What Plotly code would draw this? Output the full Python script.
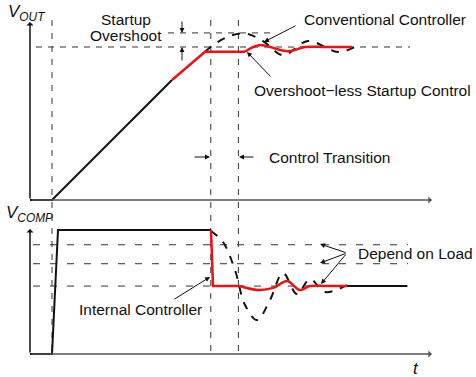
import plotly.graph_objects as go

# ---------------- data (time t in a.u., voltages normalised) ----------------
# V_OUT panel
vout_ramp_t = [0, 5.5, 35.5]
vout_ramp_v = [0, 0, 0.784]
vout_red_ramp_t = [35.5, 43.75, 53.75]
vout_red_ramp_v = [0.784, 0.969, 0.969]
vout_red_settle_t = [53.75, 57.25, 64.5, 68.75, 74, 80.5]
vout_red_settle_v = [0.969, 1.012, 0.972, 1.0, 1.0, 1.0]
vout_conv_t = [43.75, 45.5, 49.25, 53.75, 58.25, 63.25, 69.5, 77, 81.25]
vout_conv_v = [0.969, 1.007, 1.065, 1.088, 1.039, 0.946, 1.039, 0.967, 1.0]
vout_target = 1.0
vout_overshoot = 1.092
vout_target_span = [1.5, 95]
vout_overshoot_span = [34.5, 60]

# V_COMP panel
vcomp_black_t = [0, 5.5, 7, 45.25]
vcomp_black_v = [0, 0, 1.0, 1.0]
vcomp_red_drop_t = [45.25, 45.75, 52.5]
vcomp_red_drop_v = [1.0, 0.548, 0.548]
vcomp_red_settle_t = [52.5, 57, 61, 64.25, 67.5, 70, 74, 79.25]
vcomp_red_settle_v = [0.548, 0.516, 0.535, 0.589, 0.516, 0.548, 0.548, 0.548]
vcomp_tail_t = [79.25, 94.25]
vcomp_tail_v = [0.548, 0.548]
vcomp_conv_t = [45.25, 48.25, 51.25, 53.75, 56.75, 60, 63.25, 66.75, 70, 73.75, 79.25]
vcomp_conv_v = [0.992, 0.903, 0.677, 0.395, 0.274, 0.435, 0.653, 0.484, 0.605, 0.5, 0.556]
vcomp_levels = [0.881, 0.728, 0.548]
vcomp_level_span = [0.75, 94.5]

# event times (vertical guides)
event_times = [5.5, 45.2, 52.1]

# ---------------- figure ----------------
W, H = 476, 377
SPLIT = 1 - 205 / H

RED = "#ee1111"
BLACK = "#111111"
GRID = "#333333"
AX = "#555555"
FONT = "Liberation Sans, Arial, sans-serif"
FS = 15.5

fig = go.Figure()


def add(t, v, yaxis, color, width, dash="solid", shape="linear"):
    fig.add_trace(go.Scatter(x=t, y=v, yaxis=yaxis, mode="lines",
                             line=dict(color=color, width=width, dash=dash, shape=shape),
                             hoverinfo="skip", showlegend=False))


# reference dashed levels
add(vout_target_span, [vout_target] * 2, "y", GRID, 1, "6px,6px")
add(vout_overshoot_span, [vout_overshoot] * 2, "y", GRID, 1, "6px,6px")
for lv in vcomp_levels:
    add(vcomp_level_span, [lv, lv], "y2", GRID, 1, "7px,10px")

# V_OUT curves
add(vout_conv_t, vout_conv_v, "y", BLACK, 2, "8px,8px", "spline")
add(vout_ramp_t, vout_ramp_v, "y", BLACK, 2)
add(vout_red_ramp_t, vout_red_ramp_v, "y", RED, 2.5)
add(vout_red_settle_t, vout_red_settle_v, "y", RED, 2.5, shape="spline")

# V_COMP curves
add(vcomp_conv_t, vcomp_conv_v, "y2", BLACK, 2, "8px,8px", "spline")
add(vcomp_black_t, vcomp_black_v, "y2", BLACK, 2)
add(vcomp_tail_t, vcomp_tail_v, "y2", BLACK, 2)
add(vcomp_red_drop_t, vcomp_red_drop_v, "y2", RED, 2.5)
add(vcomp_red_settle_t, vcomp_red_settle_v, "y2", RED, 2.5, shape="spline")

# vertical event guides spanning both panels
for te in event_times:
    fig.add_shape(type="line", xref="x", yref="paper", x0=te, x1=te,
                  y0=1 - 20 / H, y1=1 - 353 / H,
                  line=dict(color=GRID, width=1, dash="6px,7px"), layer="below")


def P(px, py):
    return px / W, 1 - py / H


ann = []


def arrow(hx, hy, ax, ay, color=BLACK, width=1, head=2, size=1.0):
    x, y = P(hx, hy)
    ann.append(dict(x=x, y=y, xref="paper", yref="paper", ax=ax, ay=ay, text="",
                    showarrow=True, arrowhead=head, arrowsize=size, arrowwidth=width,
                    arrowcolor=color, standoff=0, startstandoff=0))


def label(px, py, text, size=FS, anchor="left"):
    x, y = P(px, py)
    ann.append(dict(x=x, y=y, xref="paper", yref="paper", text=text, showarrow=False,
                    xanchor=anchor, yanchor="middle",
                    font=dict(family=FONT, size=size, color=BLACK)))


# axes with arrow heads
arrow(432, 200, -402, 0, AX, 1.5, 1, 0.8)
arrow(30, 22, 0, 178, BLACK, 1.5, 1, 0.8)
arrow(432, 354, -402, 0, AX, 1.5, 1, 0.8)
arrow(30, 229, 0, 125, BLACK, 1.5, 1, 0.8)

# callouts
arrow(182, 33, 0, -13)
arrow(182, 47, 0, 15)
arrow(210, 157, -17, 0)
arrow(239, 157, 16, 0)
arrow(264, 42, 33, -17)
arrow(247, 52, 25, 26)
arrow(210, 277, -37, 23)
arrow(320, 244, 27, 9)
arrow(320, 263, 27, -10)
arrow(321, 284, 26, -31)

label(6, 13, "<i>V<sub>OUT</sub></i>", 17)
label(4, 214, "<i>V<sub>COMP</sub></i>", 17)
label(126, 19, "Startup", FS, "center")
label(126, 36, "Overshoot", FS, "center")
label(302, 20, "Conventional Controller")
label(252, 90, "Overshoot\u2212less Startup Control")
label(267, 157, "Control Transition")
label(77, 309, "Internal Controller")
label(356, 253, "Depend on Load")
label(416, 368, "<i>t</i>", 17, "center")

fig.update_layout(
    width=W, height=H, autosize=False,
    margin=dict(l=0, r=0, t=0, b=0, pad=0),
    paper_bgcolor="white", plot_bgcolor="white",
    showlegend=False,
    annotations=ann,
    xaxis=dict(range=[-7.5, 111.5], domain=[0, 1], visible=False, fixedrange=True),
    yaxis=dict(range=[-5 / 153, 200 / 153], domain=[SPLIT, 1], visible=False, fixedrange=True),
    yaxis2=dict(range=[(354 - 377) / 124, (354 - 205) / 124], domain=[0, SPLIT],
                visible=False, fixedrange=True, anchor="x"),
)

fig.write_html("out.html", config={"displayModeBar": False},
               post_script="document.body.style.margin='0';document.body.style.overflow='hidden';")
